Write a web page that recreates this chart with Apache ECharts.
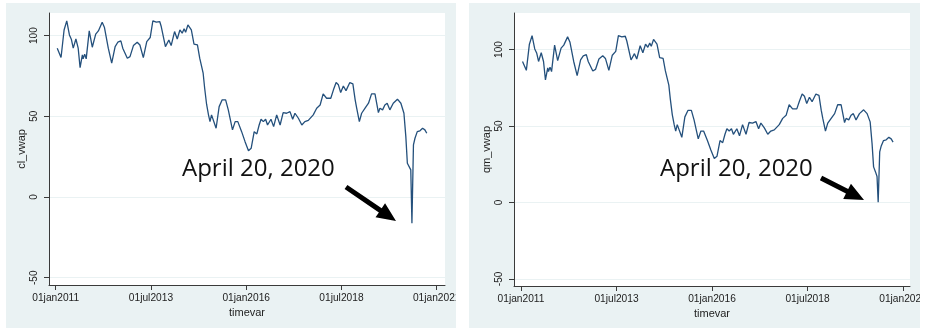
<!DOCTYPE html>
<html>
<head>
<meta charset="utf-8">
<script src="https://cdn.jsdelivr.net/npm/echarts@6/dist/echarts.min.js"></script>
<style>
  html, body { margin: 0; padding: 0; background: #fff; }
  #chart { width: 925px; height: 329px; }
</style>
</head>
<body>
<div id="chart"></div>
<script>
// timevar as decimal years (weekly vwap)
var timevar = [2011.04,2011.14,2011.22,2011.29,2011.36,2011.41,2011.46,2011.53,2011.59,2011.64,
  2011.70,2011.72,2011.76,2011.80,2011.88,2011.96,2012.05,2012.12,2012.22,2012.28,
  2012.38,2012.47,2012.56,2012.63,2012.71,2012.76,2012.88,2012.95,2013.04,2013.14,
  2013.21,2013.30,2013.39,2013.48,2013.55,2013.64,2013.73,2013.77,2013.88,2013.97,
  2014.03,2014.12,2014.19,2014.26,2014.32,2014.37,2014.41,2014.47,2014.56,2014.63,
  2014.72,2014.78,2014.87,2014.91,2014.96,2015.01,2015.05,2015.09,2015.14,2015.21,
  2015.29,2015.37,2015.46,2015.53,2015.64,2015.71,2015.78,2015.88,2015.97,2016.06,
  2016.13,2016.21,2016.28,2016.34,2016.39,2016.45,2016.51,2016.56,2016.65,2016.72,
  2016.80,2016.89,2016.97,2017.06,2017.15,2017.22,2017.28,2017.37,2017.46,2017.54,
  2017.63,2017.76,2017.85,2017.94,2018.02,2018.11,2018.22,2018.29,2018.36,2018.42,
  2018.48,2018.55,2018.62,2018.72,2018.80,2018.86,2018.90,2018.97,2019.03,2019.12,
  2019.21,2019.29,2019.38,2019.47,2019.51,2019.58,2019.64,2019.70,2019.77,2019.86,
  2019.97,2020.06,2020.14,2020.19,2020.23,2020.28,2020.32,2020.35,2020.39,2020.43,
  2020.49,2020.56,2020.63,2020.69,2020.74];

var clVwap = [92.2,86.4,103.5,109.1,100.4,97.8,92.2,97.9,92.2,80.2,
  88.0,85.6,88.5,85.6,102.9,92.8,100.9,102.9,108.3,105.0,
  92.2,82.9,93.2,95.9,96.7,92.2,86.0,87.0,93.8,95.9,
  94.2,86.4,96.3,98.8,109.1,108.3,108.7,105.6,93.2,97.3,
  93.8,102.5,97.9,103.5,101.5,104.2,102.1,106.6,103.5,94.7,
  94.2,86.0,76.7,67.4,57.5,50.9,46.7,50.9,51.9,42.6,
  56.0,60.2,60.2,54.0,41.6,46.7,46.7,40.5,34.3,28.7,
  30.2,40.5,39.1,44.6,48.2,46.7,48.2,44.6,48.2,43.6,
  50.9,44.6,52.3,51.9,52.9,48.2,51.9,48.8,44.6,46.7,
  47.5,50.9,55.0,57.0,63.9,61.2,61.2,66.4,70.9,69.5,
  64.7,68.8,65.9,70.9,70.1,60.2,55.0,46.7,51.9,55.0,
  58.1,63.9,63.9,52.3,55.0,54.0,57.0,58.1,54.0,58.1,
  60.6,58.1,51.9,37.4,20.9,21.9,16.8,-16.2,32.3,36.4,
  40.5,41.0,42.6,41.6,39.5];

var qmVwap = [92.2,86.4,103.5,109.1,100.4,97.8,92.2,97.9,92.2,80.2,
  88.0,85.6,88.5,85.6,102.9,92.8,100.9,102.9,108.3,105.0,
  92.2,82.9,93.2,95.9,96.7,92.2,86.0,87.0,93.8,95.9,
  94.2,86.4,96.3,98.8,109.1,108.3,108.7,105.6,93.2,97.3,
  93.8,102.5,97.9,103.5,101.5,104.2,102.1,106.6,103.5,94.7,
  94.2,86.0,76.7,67.4,57.5,50.9,46.7,50.9,51.9,42.6,
  56.0,60.2,60.2,54.0,41.6,46.7,46.7,40.5,34.3,28.7,
  30.2,40.5,39.1,44.6,48.2,46.7,48.2,44.6,48.2,43.6,
  50.9,44.6,52.3,51.9,52.9,48.2,51.9,48.8,44.6,46.7,
  47.5,50.9,55.0,57.0,63.9,61.2,61.2,66.4,70.9,69.5,
  64.7,68.8,65.9,70.9,70.1,60.2,55.0,46.7,51.9,55.0,
  58.1,63.9,63.9,52.3,55.0,54.0,57.0,58.1,54.0,58.1,
  60.6,58.1,52.7,38.5,23.3,20.0,17.0,0.2,33.1,37.0,
  40.5,41.0,42.6,41.6,39.5];

var xTickValues = [2011, 2013.5, 2016, 2018.5, 2021];
var xTickLabels = ['01jan2011', '01jul2013', '01jan2016', '01jul2018', '01jan2021'];
var yTickValues = [-50, 0, 50, 100];

var navy = '#24507c';
var axisColor = '#3a3a3a';
var panelBg = '#eaf2f3';
var labelFont = 'Liberation Sans, Arial, sans-serif';

function pairs(xs, ys) {
  return xs.map(function (x, i) { return [x, ys[i]]; });
}

function xAxisFor(gridIndex, min, max) {
  return {
    type: 'value', gridIndex: gridIndex, min: min, max: max,
    name: 'timevar', nameLocation: 'middle', nameGap: 18,
    nameTextStyle: { color: '#222', fontSize: 11, fontFamily: labelFont },
    axisLine: { onZero: false, lineStyle: { color: axisColor, width: 1 } },
    axisTick: { length: 5, customValues: xTickValues, lineStyle: { color: axisColor } },
    axisLabel: {
      customValues: xTickValues, margin: 8, color: '#222', fontSize: 10.2, fontFamily: labelFont,
      formatter: function (v) { return xTickLabels[xTickValues.indexOf(v)]; }
    },
    splitLine: { show: false }
  };
}

function yAxisFor(gridIndex, name, min, max) {
  return {
    type: 'value', gridIndex: gridIndex, min: min, max: max,
    name: name, nameLocation: 'middle', nameGap: 22,
    nameTextStyle: { color: '#222', fontSize: 11, fontFamily: labelFont },
    axisLine: { show: true, onZero: false, lineStyle: { color: axisColor, width: 1 } },
    axisTick: { show: true, length: 5, customValues: yTickValues, lineStyle: { color: axisColor } },
    axisLabel: { customValues: yTickValues, rotate: 90, margin: 10, color: '#222', fontSize: 10, fontFamily: labelFont },
    splitLine: { show: true, lineStyle: { color: panelBg, width: 1 } }
  };
}

// arrow outline for the annotations
function arrowShape(x1, y1, x2, y2, shaftW, headL, headW) {
  var dx = x2 - x1, dy = y2 - y1, len = Math.sqrt(dx * dx + dy * dy);
  var ux = dx / len, uy = dy / len, nx = -uy, ny = ux;
  var bx = x2 - ux * headL, by = y2 - uy * headL;
  return [
    [x1 + nx * shaftW / 2, y1 + ny * shaftW / 2],
    [bx + nx * shaftW / 2, by + ny * shaftW / 2],
    [bx + nx * headW / 2, by + ny * headW / 2],
    [x2, y2],
    [bx - nx * headW / 2, by - ny * headW / 2],
    [bx - nx * shaftW / 2, by - ny * shaftW / 2],
    [x1 - nx * shaftW / 2, y1 - ny * shaftW / 2]
  ];
}

var chart = echarts.init(document.getElementById('chart'));
var option = {
  animation: false,
  backgroundColor: '#ffffff',
  graphic: [
    { type: 'rect', z: -100, shape: { x: 6, y: 3, width: 450, height: 325 }, style: { fill: panelBg } },
    { type: 'rect', z: -100, shape: { x: 469, y: 3, width: 451, height: 325 }, style: { fill: panelBg } },
    { type: 'rect', z: 100, shape: { x: 456, y: 286, width: 13, height: 43 }, style: { fill: '#ffffff' } },
    { type: 'rect', z: 100, shape: { x: 920, y: 286, width: 5, height: 43 }, style: { fill: '#ffffff' } },
    { type: 'text', z: 100, left: 182, top: 157,
      style: { text: 'April 20, 2020', fill: '#111', font: '24px "Open Sans", sans-serif' } },
    { type: 'text', z: 100, left: 660, top: 157,
      style: { text: 'April 20, 2020', fill: '#111', font: '24px "Open Sans", sans-serif' } },
    { type: 'polygon', z: 100, shape: { points: arrowShape(346, 187, 396, 221, 5, 19, 17) }, style: { fill: '#000' } },
    { type: 'polygon', z: 100, shape: { points: arrowShape(821, 178, 864, 200, 5, 19, 17) }, style: { fill: '#000' } }
  ],
  grid: [
    { left: 49, top: 13, width: 396, height: 272, show: true, backgroundColor: '#ffffff', borderWidth: 0, outerBoundsMode: 'none' },
    { left: 514, top: 13, width: 396, height: 273, show: true, backgroundColor: '#ffffff', borderWidth: 0, outerBoundsMode: 'none' }
  ],
  xAxis: [
    xAxisFor(0, 2010.824, 2021.218),
    xAxisFor(1, 2010.817, 2021.183)
  ],
  yAxis: [
    yAxisFor(0, 'cl_vwap', -54.5, 114),
    yAxisFor(1, 'qm_vwap', -54.6, 123.9)
  ],
  series: [
    { type: 'line', xAxisIndex: 0, yAxisIndex: 0, showSymbol: false, data: pairs(timevar, clVwap),
      lineStyle: { color: navy, width: 1.3 } },
    { type: 'line', xAxisIndex: 1, yAxisIndex: 1, showSymbol: false, data: pairs(timevar, qmVwap),
      lineStyle: { color: navy, width: 1.3 } }
  ]
};
chart.setOption(option);
</script>
</body>
</html>
